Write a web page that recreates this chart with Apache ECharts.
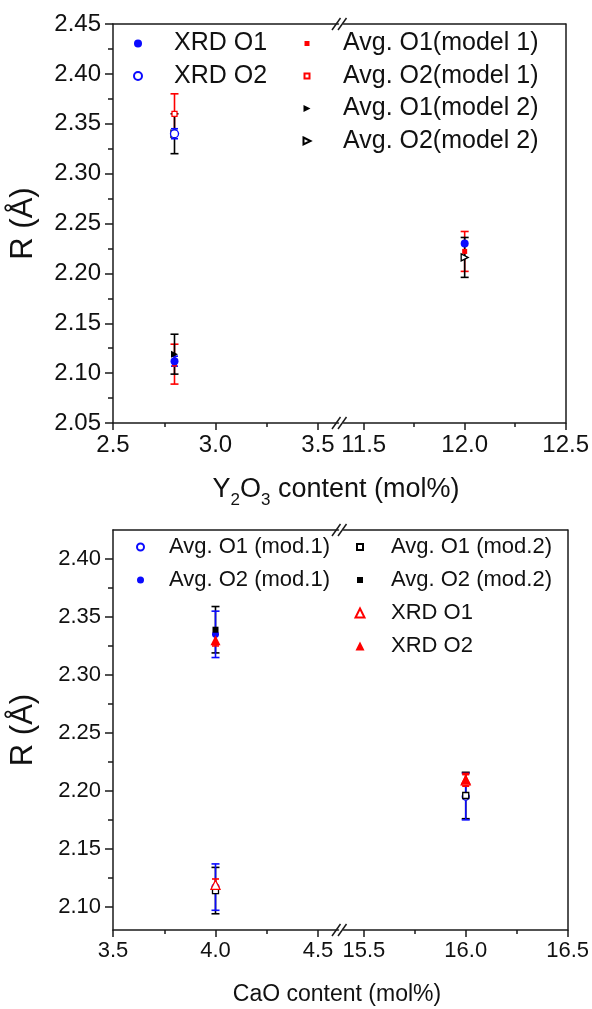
<!DOCTYPE html>
<html><head><meta charset="utf-8">
<script src="https://cdn.jsdelivr.net/npm/echarts@6/dist/echarts.min.js"></script>
<style>html,body{margin:0;padding:0;background:#fff}#c{width:592px;height:1009px}</style>
</head><body><div id="c"></div>
<script>
// ---------- Top panel: Y2O3 ----------
const y2o3Content = [2.8, 12.0];
const topXrdO1 = [2.112, 2.230];  const topXrdO1Err = [0.005, 0];
const topXrdO2 = [2.340, null];   const topXrdO2Err = [0.005, null];
const topM1O1  = [2.109, 2.222];  const topM1O1Err  = [0.02, 0.02];
const topM1O2  = [2.360, null];   const topM1O2Err  = [0.02, null];
const topM2O1  = [2.119, null];   const topM2O1Err  = [0.02, null];
const topM2O2  = [2.340, 2.216];  const topM2O2Err  = [0.02, 0.02];
const topYTicks = [2.05, 2.10, 2.15, 2.20, 2.25, 2.30, 2.35, 2.40, 2.45];
const topYMinor = [2.075, 2.125, 2.175, 2.225, 2.275, 2.325, 2.375, 2.425];
const topXTicksL = [2.5, 3.0, 3.5];    const topXMinorL = [2.75, 3.25];
const topXTicksR = [11.5, 12.0, 12.5]; const topXMinorR = [11.75, 12.25];

// ---------- Bottom panel: CaO ----------
const caoContent = [4.0, 16.0];
const botM1O1  = [2.117, 2.195];  const botM1O1Err  = [0.02, 0.02];
const botM1O2  = [2.335, null];   const botM1O2Err  = [0.02, null];
const botM2O1  = [2.114, 2.196];  const botM2O1Err  = [0.02, 0.02];
const botM2O2  = [2.339, null];   const botM2O2Err  = [0.02, null];
const botXrdO1 = [2.119, 2.209];  const botXrdO1Err = [0.005, 0.005];
const botXrdO2 = [2.330, 2.210];  const botXrdO2Err = [0.005, 0.005];
const botYTicks = [2.10, 2.15, 2.20, 2.25, 2.30, 2.35, 2.40];
const botYMinor = [2.125, 2.175, 2.225, 2.275, 2.325, 2.375];
const botXTicksL = [3.5, 4.0, 4.5];    const botXMinorL = [3.75, 4.25];
const botXTicksR = [15.5, 16.0, 16.5]; const botXMinorR = [15.75, 16.25];

const FONT = "'Liberation Sans', Arial, Helvetica, sans-serif";
const AX = '#1a1a1a', TXT = '#111';
const BLUE = '#0a0aff', RED = '#ff0000', BLACK = '#000000';
const RTRI = 'path://M0,0L10,5L0,10Z';

const panels = [
  { top: 24, height: 399, ymin: 2.05, ymax: 2.45, yTicks: topYTicks, yMinor: topYMinor, fs: 24, xs: y2o3Content,
    grids: [
      { left: 113, width: 225.5, xmin: 2.5, xmax: 3.6, ticks: topXTicksL, minor: topXMinorL },
      { left: 343.5, width: 224.5, xmin: 11.4, xmax: 12.5, ticks: topXTicksR, minor: topXMinorR }
    ],
    series: [
      { name: 'Avg. O1(model 1)', ys: topM1O1, errs: topM1O1Err, color: RED, symbol: 'rect', size: 5, open: false, cap: 8, br: 0, mr: 0 },
      { name: 'Avg. O2(model 1)', ys: topM1O2, errs: topM1O2Err, color: RED, symbol: 'rect', size: 5, open: true, cap: 8, br: 1, mr: 1 },
      { name: 'Avg. O1(model 2)', ys: topM2O1, errs: topM2O1Err, color: BLACK, symbol: RTRI, size: 7, open: false, cap: 8, br: 2, mr: 2 },
      { name: 'Avg. O2(model 2)', ys: topM2O2, errs: topM2O2Err, color: BLACK, symbol: RTRI, size: 7, open: true, cap: 8, br: 3, mr: 3 },
      { name: 'XRD O1', ys: topXrdO1, errs: topXrdO1Err, color: BLUE, symbol: 'circle', size: 8, open: false, cap: 7, br: 4, mr: 4 },
      { name: 'XRD O2', ys: topXrdO2, errs: topXrdO2Err, color: BLUE, symbol: 'circle', size: 8, open: true, cap: 7, br: 5, mr: 5 }
    ]
  },
  { top: 530, height: 400, ymin: 2.08, ymax: 2.425, yTicks: botYTicks, yMinor: botYMinor, fs: 22, xs: caoContent,
    grids: [
      { left: 113, width: 225.5, xmin: 3.5, xmax: 4.6, ticks: botXTicksL, minor: botXMinorL },
      { left: 343.5, width: 224.5, xmin: 15.4, xmax: 16.5, ticks: botXTicksR, minor: botXMinorR }
    ],
    series: [
      { name: 'Avg. O1 (mod.1)', ys: botM1O1, errs: botM1O1Err, color: BLUE, symbol: 'circle', size: 7, open: true, cap: 8, br: 2, mr: 0 },
      { name: 'Avg. O2 (mod.1)', ys: botM1O2, errs: botM1O2Err, color: BLUE, symbol: 'circle', size: 7, open: false, cap: 8, br: 3, mr: 1 },
      { name: 'Avg. O1 (mod.2)', ys: botM2O1, errs: botM2O1Err, color: BLACK, symbol: 'rect', size: 6, open: true, cap: 8, br: 0, mr: 2 },
      { name: 'Avg. O2 (mod.2)', ys: botM2O2, errs: botM2O2Err, color: BLACK, symbol: 'rect', size: 6, open: false, cap: 8, br: 1, mr: 3 },
      { name: 'CaO XRD O1', ys: botXrdO1, errs: botXrdO1Err, color: RED, symbol: 'triangle', size: 9, open: true, cap: 7, br: 4, mr: 4 },
      { name: 'CaO XRD O2', ys: botXrdO2, errs: botXrdO2Err, color: RED, symbol: 'triangle', size: 10, open: false, cap: 7, br: 5, mr: 5 }
    ]
  }
];

const grid = [], xAxis = [], yAxis = [], series = [];
const lbl = (fs) => ({ fontSize: fs, fontFamily: FONT, color: TXT });

panels.forEach((p) => {
  p.grids.forEach((g, side) => {
    const gi = grid.length;
    grid.push({ left: g.left, top: p.top, width: g.width, height: p.height });
    const xi = xAxis.length;
    xAxis.push({ type: 'value', gridIndex: gi, position: 'bottom', offset: 0, min: g.xmin, max: g.xmax,
      axisLine: { show: true, onZero: false, lineStyle: { color: AX, width: 1.5 } },
      axisTick: { show: true, inside: false, length: 7, customValues: g.ticks, lineStyle: { color: AX, width: 1.5 } },
      axisLabel: Object.assign({ show: true, customValues: g.ticks, margin: 10, formatter: v => Number(v).toFixed(1) }, lbl(p.fs)),
      splitLine: { show: false }, minorTick: { show: false } });
    xAxis.push({ type: 'value', gridIndex: gi, position: 'bottom', offset: 0, min: g.xmin, max: g.xmax,
      axisLine: { show: false, onZero: false },
      axisTick: { show: true, inside: false, length: 4, customValues: g.minor, lineStyle: { color: AX, width: 1.5 } },
      axisLabel: { show: false }, splitLine: { show: false } });
    xAxis.push({ type: 'value', gridIndex: gi, position: 'top', offset: 0, min: g.xmin, max: g.xmax,
      axisLine: { show: true, onZero: false, lineStyle: { color: AX, width: 1.5 } },
      axisTick: { show: false }, axisLabel: { show: false }, splitLine: { show: false } });
    const yi = yAxis.length;
    if (side === 0) {
      yAxis.push({ type: 'value', gridIndex: gi, position: 'left', offset: 0, min: p.ymin, max: p.ymax,
        name: 'R (Å)', nameLocation: 'middle', nameRotate: 90, nameGap: 74,
        nameTextStyle: { fontSize: 31, fontFamily: FONT, color: TXT },
        axisLine: { show: true, onZero: false, lineStyle: { color: AX, width: 1.5 } },
        axisTick: { show: true, inside: false, length: 8, customValues: p.yTicks, lineStyle: { color: AX, width: 1.5 } },
        axisLabel: Object.assign({ show: true, customValues: p.yTicks, margin: 12, formatter: v => Number(v).toFixed(2) }, lbl(p.fs)),
        splitLine: { show: false } });
      yAxis.push({ type: 'value', gridIndex: gi, position: 'left', offset: 0, min: p.ymin, max: p.ymax,
        axisLine: { show: false, onZero: false },
        axisTick: { show: true, inside: false, length: 5, customValues: p.yMinor, lineStyle: { color: AX, width: 1.5 } },
        axisLabel: { show: false }, splitLine: { show: false } });
    } else {
      yAxis.push({ type: 'value', gridIndex: gi, position: 'right', offset: 0, min: p.ymin, max: p.ymax,
        axisLine: { show: true, onZero: false, lineStyle: { color: AX, width: 1.5 } },
        axisTick: { show: false }, axisLabel: { show: false }, splitLine: { show: false } });
    }
    const inGrid = (x) => x >= g.xmin && x <= g.xmax;
    // error bars
    p.series.slice().sort((a, b) => a.br - b.br).forEach((s) => {
      const data = [];
      p.xs.forEach((x, i) => { if (s.ys[i] != null && s.errs[i] > 0 && inGrid(x)) data.push([x, s.ys[i] - s.errs[i], s.ys[i] + s.errs[i]]); });
      if (!data.length) return;
      series.push({ type: 'custom', name: 'err ' + s.name, xAxisIndex: xi, yAxisIndex: yi, z: 2, silent: true,
        encode: { x: 0, y: [1, 2] }, data,
        renderItem: (params, api) => {
          const x = api.value(0), lo = api.value(1), hi = api.value(2);
          const a = api.coord([x, hi]), b = api.coord([x, lo]);
          const hw = s.cap / 2, st = { stroke: s.color, lineWidth: 1.6 };
          return { type: 'group', children: [
            { type: 'line', shape: { x1: a[0], y1: a[1], x2: b[0], y2: b[1] }, style: st },
            { type: 'line', shape: { x1: a[0] - hw, y1: a[1], x2: a[0] + hw, y2: a[1] }, style: st },
            { type: 'line', shape: { x1: b[0] - hw, y1: b[1], x2: b[0] + hw, y2: b[1] }, style: st }
          ]};
        } });
    });
    // markers
    p.series.slice().sort((a, b) => a.mr - b.mr).forEach((s) => {
      const data = [];
      p.xs.forEach((x, i) => { if (s.ys[i] != null && inGrid(x)) data.push([x, s.ys[i]]); });
      if (!data.length) return;
      series.push({ type: 'scatter', name: s.name, xAxisIndex: xi, yAxisIndex: yi, z: 3, silent: true,
        symbol: s.symbol, symbolSize: s.size, data,
        itemStyle: s.open ? { color: '#ffffff', borderColor: s.color, borderWidth: 1.3, opacity: 1 }
                          : { color: s.color, borderWidth: 0, opacity: 1 },
        emphasis: { disabled: true } });
    });
  });
});

// legends: icon box = marker size, text pushed right by padding
const mkLegend = (names, iconCenter, textStart, top, size, fs, lh, gap) => ({
  orient: 'vertical', padding: 0, selectedMode: false, data: names,
  left: iconCenter - size / 2, top, itemWidth: size, itemHeight: size, itemGap: gap,
  formatter: n => n.replace(/^CaO /, ''),
  textStyle: { fontSize: fs, lineHeight: lh, fontFamily: FONT, color: TXT,
    padding: [0, 0, 0, textStart - (iconCenter + size / 2) - 5] }
});
const legend = [
  mkLegend(['XRD O1', 'XRD O2'], 137, 173, 30.5, 8, 25, 26, 6.5),
  mkLegend(['Avg. O1(model 1)', 'Avg. O2(model 1)'], 306, 342, 30.5, 5, 25, 26, 6.5),
  mkLegend(['Avg. O1(model 2)', 'Avg. O2(model 2)'], 306, 342, 95.5, 7, 25, 26, 6.5),
  mkLegend(['Avg. O1 (mod.1)', 'Avg. O2 (mod.1)'], 139.5, 168, 534.5, 7, 22, 25, 8),
  mkLegend(['Avg. O1 (mod.2)', 'Avg. O2 (mod.2)'], 359, 390, 534.5, 6, 22, 25, 8),
  mkLegend(['CaO XRD O1', 'CaO XRD O2'], 359, 390, 600.5, 9, 22, 25, 8)
];

// break marks and x-axis titles
const graphic = [];
const brk = (y) => {
  graphic.push({ type: 'line', z: 100, shape: { x1: 332, y1: y + 6, x2: 340.5, y2: y - 6 }, style: { stroke: AX, lineWidth: 1.5 } });
  graphic.push({ type: 'line', z: 100, shape: { x1: 338, y1: y + 6, x2: 346.5, y2: y - 6 }, style: { stroke: AX, lineWidth: 1.5 } });
};
brk(24); brk(423); brk(530); brk(930);
graphic.push({ type: 'text', x: 336, y: 490, z: 100, style: {
  text: '{n|Y}{s|2}{n|O}{s|3}{n| content (mol%)}', align: 'center', verticalAlign: 'middle',
  rich: { n: { fontSize: 27, fontFamily: FONT, fill: TXT, lineHeight: 38, verticalAlign: 'middle' },
          s: { fontSize: 17, fontFamily: FONT, fill: TXT, lineHeight: 38, verticalAlign: 'bottom' } } } });
graphic.push({ type: 'text', x: 337, y: 995, z: 100, style: {
  text: 'CaO content (mol%)', align: 'center', verticalAlign: 'middle',
  fontSize: 23, fontFamily: FONT, fill: TXT } });

const chart = echarts.init(document.getElementById('c'), null, { renderer: 'canvas' });
chart.setOption({ animation: false, backgroundColor: '#fff', grid, xAxis, yAxis, series, legend, graphic });
</script></body></html>
